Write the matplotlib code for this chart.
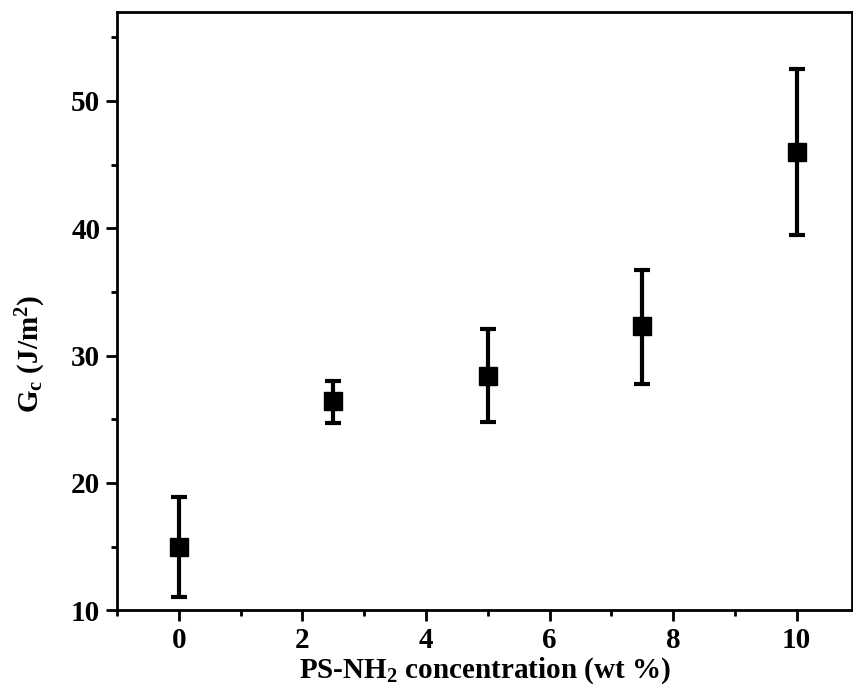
import matplotlib
matplotlib.use("Agg")
import matplotlib.pyplot as plt
from matplotlib.ticker import MultipleLocator

conc = [0, 2.5, 5, 7.5, 10]
gc = [15.0, 26.4, 28.4, 32.3, 46.0]
err_low = [4.0, 1.7, 3.6, 4.5, 6.5]
err_high = [3.9, 1.6, 3.7, 4.4, 6.5]

plt.rcParams['font.family'] = ['Liberation Serif', 'DejaVu Serif']
plt.rcParams['font.weight'] = 'bold'
plt.rcParams['mathtext.fontset'] = 'custom'
plt.rcParams['mathtext.rm'] = 'Liberation Serif:bold'
plt.rcParams['mathtext.bf'] = 'Liberation Serif:bold'
plt.rcParams['mathtext.it'] = 'Liberation Serif:bold'

fig = plt.figure(figsize=(8.54, 6.99), dpi=100)
ax = fig.add_axes([0.137, 0.127, 0.861, 0.856])
ax.errorbar(conc, gc, yerr=[err_low, err_high], fmt='s', color='black',
            markersize=13, elinewidth=3, capsize=6, capthick=3, ecolor='black')
ax.set_xlim(-1, 10.9)
ax.set_ylim(10, 57)
ax.xaxis.set_major_locator(MultipleLocator(2))
ax.xaxis.set_minor_locator(MultipleLocator(1))
ax.yaxis.set_major_locator(MultipleLocator(10))
ax.yaxis.set_minor_locator(MultipleLocator(5))
ax.tick_params(which='major', direction='out', length=8, width=2, labelsize=21, pad=4)
ax.tick_params(which='minor', direction='out', length=4, width=2)
for s in ax.spines.values():
    s.set_linewidth(2)
for lab in ax.get_xticklabels() + ax.get_yticklabels():
    lab.set_fontweight('bold')
ax.set_xlabel('PS-NH$_\\mathrm{2}$ concentration (wt %)', fontsize=21, fontweight='bold', labelpad=1)
ax.set_ylabel('G$_\\mathrm{c}$ (J/m$^\\mathrm{2}$)', fontsize=21, fontweight='bold',
              va='center', rotation_mode='default')
ax.yaxis.set_label_coords((31 - 117) / 735, (610 - 354) / 598)
fig.savefig('out.png', dpi=100)
